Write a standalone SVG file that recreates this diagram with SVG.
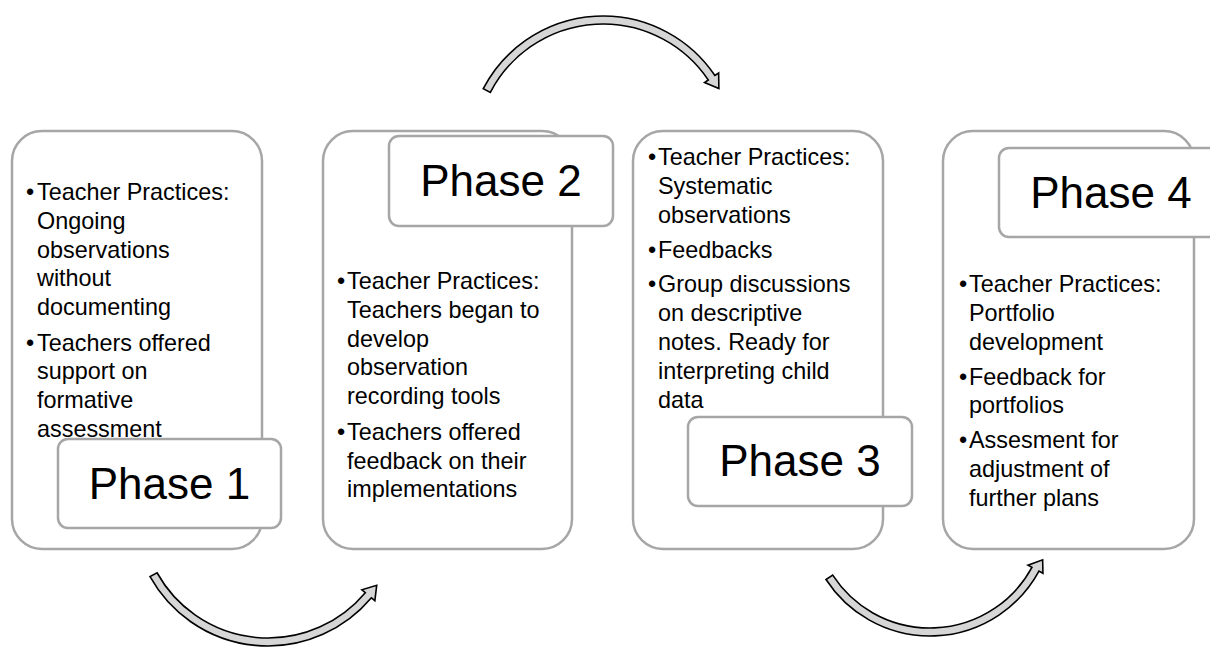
<svg xmlns="http://www.w3.org/2000/svg" width="1210" height="647" viewBox="0 0 1210 647">
<style>
  .box { fill: #ffffff; stroke: #a6a6a6; stroke-width: 2.5; }
  .lbl { fill: #ffffff; stroke: #a6a6a6; stroke-width: 2.5; }
  .t { font-family: "Liberation Sans", Arial, sans-serif; font-size: 23.4px; fill: #000000; }
  .p { font-family: "Liberation Sans", Arial, sans-serif; font-size: 44px; fill: #000000; text-anchor: middle; }
  .arr { fill: #d6d6d6; stroke: #000000; stroke-width: 1.6; stroke-linejoin: miter; }
</style>
<rect width="1210" height="647" fill="#ffffff"/>

<g id="phase1">
  <rect class="box" x="12" y="131" width="250" height="418" rx="30"/>
  <text class="t" x="26" y="200">•</text>
  <text class="t" x="37" y="200">Teacher Practices:</text>
  <text class="t" x="37" y="228.8">Ongoing</text>
  <text class="t" x="37" y="257.6">observations</text>
  <text class="t" x="37" y="286.4">without</text>
  <text class="t" x="37" y="315.2">documenting</text>
  <text class="t" x="26" y="350.5">•</text>
  <text class="t" x="37" y="350.5">Teachers offered</text>
  <text class="t" x="37" y="379.3">support on</text>
  <text class="t" x="37" y="408.1">formative</text>
  <text class="t" x="37" y="436.9">assessment</text>
  <rect class="lbl" x="58" y="439" width="223" height="89" rx="10"/>
  <text class="p" x="169.5" y="499">Phase 1</text>
</g>

<g id="phase2">
  <rect class="box" x="323" y="131" width="249" height="418" rx="30"/>
  <rect class="lbl" x="389" y="136" width="224" height="90" rx="10"/>
  <text class="p" x="501" y="196">Phase 2</text>
  <text class="t" x="337" y="289">•</text>
  <text class="t" x="347" y="289">Teacher Practices:</text>
  <text class="t" x="347" y="317.8">Teachers began to</text>
  <text class="t" x="347" y="346.6">develop</text>
  <text class="t" x="347" y="375.4">observation</text>
  <text class="t" x="347" y="404.2">recording tools</text>
  <text class="t" x="337" y="439.7">•</text>
  <text class="t" x="347" y="439.7">Teachers offered</text>
  <text class="t" x="347" y="468.5">feedback on their</text>
  <text class="t" x="347" y="497.3">implementations</text>
</g>

<g id="phase3">
  <rect class="box" x="633" y="131" width="250" height="418" rx="30"/>
  <text class="t" x="648" y="165">•</text>
  <text class="t" x="658" y="165">Teacher Practices:</text>
  <text class="t" x="658" y="193.8">Systematic</text>
  <text class="t" x="658" y="222.6">observations</text>
  <text class="t" x="648" y="257.5">•</text>
  <text class="t" x="658" y="257.5">Feedbacks</text>
  <text class="t" x="648" y="292.4">•</text>
  <text class="t" x="658" y="292.4">Group discussions</text>
  <text class="t" x="658" y="321.2">on descriptive</text>
  <text class="t" x="658" y="350">notes. Ready for</text>
  <text class="t" x="658" y="378.8">interpreting child</text>
  <text class="t" x="658" y="407.6">data</text>
  <rect class="lbl" x="688" y="417" width="224" height="89" rx="10"/>
  <text class="p" x="800" y="476">Phase 3</text>
</g>

<g id="phase4">
  <rect class="box" x="943" y="131" width="251" height="418" rx="30"/>
  <rect class="lbl" x="999" y="148" width="224" height="89" rx="10"/>
  <text class="p" x="1111" y="208">Phase 4</text>
  <text class="t" x="959" y="292">•</text>
  <text class="t" x="969" y="292">Teacher Practices:</text>
  <text class="t" x="969" y="320.8">Portfolio</text>
  <text class="t" x="969" y="349.6">development</text>
  <text class="t" x="959" y="384.5">•</text>
  <text class="t" x="969" y="384.5">Feedback for</text>
  <text class="t" x="969" y="413.3">portfolios</text>
  <text class="t" x="959" y="448.2">•</text>
  <text class="t" x="969" y="448.2">Assesment for</text>
  <text class="t" x="969" y="477">adjustment of</text>
  <text class="t" x="969" y="505.8">further plans</text>
</g>

<g id="connectors">
  <path class="arr" d="M157.03,572.76 A127,127 0 0 0 365.28,592.64 L361.84,589.74 L376.71,585.25 L374.86,600.67 L371.41,597.78 A135,135 0 0 1 150.04,576.65 Z"/>
  <path class="arr" d="M490.35,92.36 A127,127 0 0 1 708.28,79.98 L704.55,82.50 L718.87,88.53 L718.65,72.99 L714.92,75.51 A135,135 0 0 0 483.25,88.67 Z"/>
  <path class="arr" d="M832.71,575.17 A116,116 0 0 0 1031.94,567.36 L1027.99,565.21 L1042.66,559.84 L1042.93,573.32 L1038.97,571.17 A124,124 0 0 1 826.00,579.53 Z"/>
</g>
</svg>
